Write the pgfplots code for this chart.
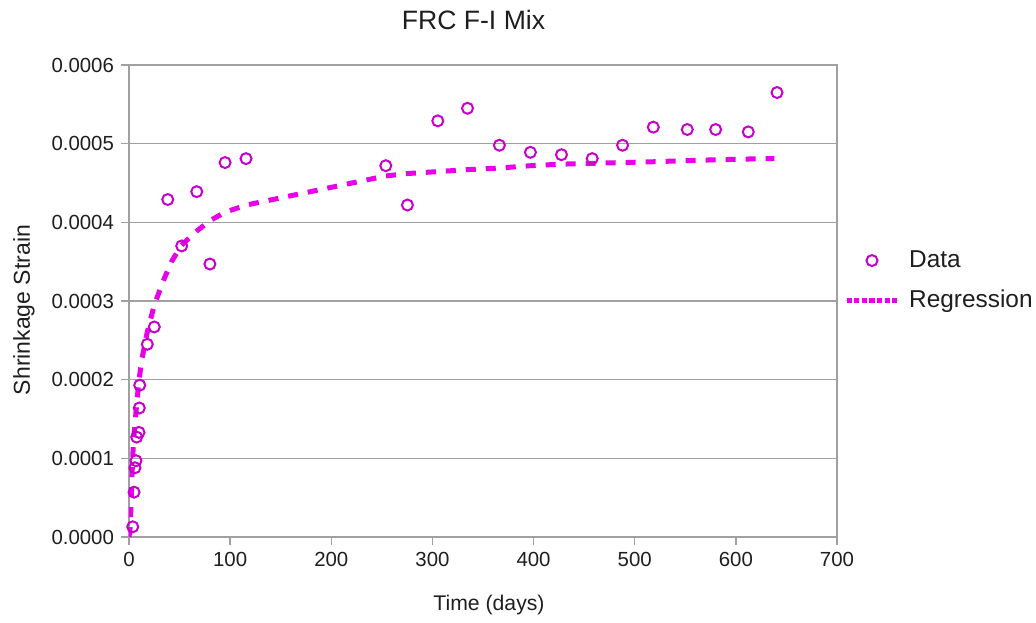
\documentclass[border=0pt]{standalone}
\usepackage{pgfplots}
\pgfplotsset{compat=1.18}
\usepackage{fontspec}
\setmainfont{Liberation Sans}
\definecolor{datac}{RGB}{200,0,205}
\definecolor{regc}{RGB}{232,0,232}
\definecolor{gridc}{RGB}{160,160,160}
\definecolor{txtc}{RGB}{30,30,30}
\begin{document}
\begin{tikzpicture}
\path[use as bounding box] (-64.5pt,-42.5pt) rectangle (453.5pt,268.5pt);
\begin{axis}[
  at={(0,0)}, anchor=south west,
  scale only axis, width=354pt, height=236pt,
  xmin=0, xmax=700, ymin=0, ymax=0.0006,
  xtick={0,100,200,300,400,500,600,700},
  ytick={0,0.0001,0.0002,0.0003,0.0004,0.0005,0.0006},
  scaled y ticks=false,
  tick pos=left, tick align=outside, major tick length=4pt,
  tick style={gridc, line width=0.75pt},
  axis line style={gridc, line width=0.75pt},
  ymajorgrids, grid style={gridc, line width=0.75pt},
  ticklabel style={font=\fontsize{10.2}{12}\selectfont, text=txtc},
  xticklabel style={/pgf/number format/assume math mode=true},
  yticklabel style={/pgf/number format/.cd, fixed, fixed zerofill, precision=4, assume math mode=true},
  title={FRC F-I Mix},
  title style={at={([xshift=-4.75pt,yshift=12pt]axis description cs:0.5,1)}, anchor=base, font=\fontsize{13.3}{15}\selectfont, text=txtc},
  xlabel={Time (days)},
  xlabel style={at={([xshift=3pt,yshift=-36.5pt]axis description cs:0.5,0)}, anchor=base, font=\fontsize{10.6}{12}\selectfont, text=txtc},
  ylabel={Shrinkage Strain},
  ylabel style={at={([xshift=-49.5pt,yshift=-4.5pt]axis description cs:0,0.5)}, anchor=base, rotate=0, font=\fontsize{11.5}{13}\selectfont, text=txtc},
  legend image code/.code={\draw[mark repeat=2,mark phase=2,#1] plot coordinates {(0pt,0pt) (12.75pt,0pt) (25.5pt,0pt)};},
  legend style={draw=none, fill=none, inner sep=0pt, outer sep=0pt,
    at={(1,0.5)}, anchor=west, xshift=3.5pt, yshift=10.25pt,
    font=\fontsize{12.2}{13}\selectfont, text=txtc,
    nodes={inner sep=0pt}, column sep=4.6pt, row sep=9.6pt},
  legend cell align=left,
]
\addplot[only marks, mark=o, mark size=2.75pt, mark options={datac, line width=1pt}] coordinates {
(3.7,0.000013) (5.0,0.000057) (5.9,0.000088) (6.9,0.000097) (7.6,0.000127)
(9.9,0.000133) (10.2,0.000164) (10.6,0.000193) (18.1,0.000245) (25.0,0.000267)
(38.3,0.000429) (52.1,0.000370) (67,0.000439) (80,0.000347) (95,0.000476)
(115.7,0.000481) (253.9,0.000472) (275.3,0.000422) (305.3,0.000529) (334.7,0.000545)
(366.2,0.000498) (396.9,0.000489) (427.6,0.000486) (458,0.000481) (488,0.000498)
(518.4,0.000521) (552,0.000518) (580,0.000518) (612.3,0.000515) (640.7,0.000565)
};
\addlegendentry{Data}
\addplot[regc, line width=2.5pt, dash pattern=on 5pt off 5pt, legend image post style={dash pattern=on 2.6pt off 1.2pt}] coordinates {
(0,0) (1,0.000010) (2,0.000040) (3,0.000080) (4,0.000110) (5,0.000130)
(6,0.000145) (8,0.000175) (10,0.000200) (12.6,0.000225) (18,0.000260)
(25,0.000295) (35,0.000329) (42,0.000350) (52,0.000371) (67,0.000389)
(80,0.000402) (95,0.000413) (116,0.000422) (254,0.000459) (275,0.000462)
(305,0.0004645) (335,0.000467) (366,0.000469) (397,0.000472) (428,0.000474)
(458,0.000475) (488,0.000476) (518,0.000477) (552,0.0004785) (580,0.0004795)
(612,0.0004805) (638,0.000481)
};
\addlegendentry{Regression}
\end{axis}
\end{tikzpicture}
\end{document}
